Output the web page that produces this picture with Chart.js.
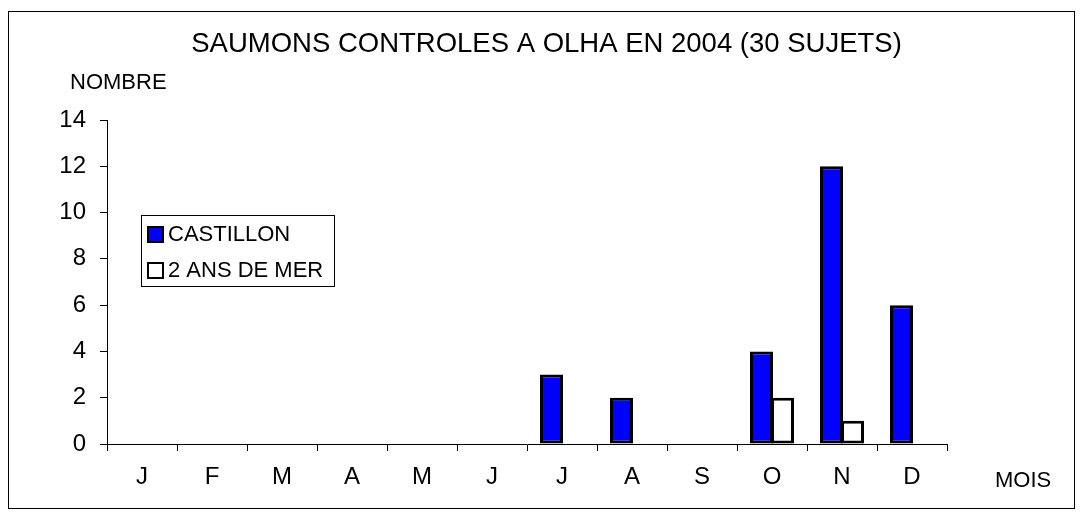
<!DOCTYPE html>
<html>
<head>
<meta charset="utf-8">
<script src="https://cdn.jsdelivr.net/npm/chart.js@4"></script>
<style>
html,body{margin:0;padding:0;background:#fff;}
#wrap{width:1083px;height:516px;position:relative;}
</style>
</head>
<body>
<div id="wrap"><canvas id="c" width="1083" height="516"></canvas></div>
<script>
const months = ['J','F','M','A','M','J','J','A','S','O','N','D'];
const castillon = [0,0,0,0,0,0,3,2,0,4,12,6];
const deuxAnsDeMer = [0,0,0,0,0,0,0,0,0,2,1,0];
const seriesNames = ['CASTILLON','2 ANS DE MER'];
const seriesColors = ['#0000FF','#FFFFFF'];
const yTicks = [0,2,4,6,8,10,12,14];
const titleText = 'SAUMONS CONTROLES A OLHA EN 2004 (30 SUJETS)';
const yAxisLabel = 'NOMBRE';
const xAxisLabel = 'MOIS';

const FONT = '"Liberation Sans", Arial, sans-serif';

const decor = {
  id: 'decor',
  afterDraw(chart) {
    const ctx = chart.ctx;
    ctx.save();
    // outer frame
    ctx.strokeStyle = '#000';
    ctx.lineWidth = 1;
    ctx.strokeRect(8.5, 11.5, 1066, 497);
    // title
    ctx.fillStyle = '#000';
    ctx.textAlign = 'center';
    ctx.textBaseline = 'middle';
    ctx.font = '27.5px ' + FONT;
    ctx.fillText(titleText, 546.5, 44);
    // axis labels
    ctx.textAlign = 'left';
    ctx.font = '22px ' + FONT;
    ctx.fillText(yAxisLabel, 70, 83);
    ctx.fillText(xAxisLabel, 995, 481);
    // legend
    ctx.lineWidth = 1;
    ctx.strokeRect(141.5, 215.5, 193, 71);
    const rows = [234, 270];
    chart.data.datasets.forEach((ds, i) => {
      const cy = rows[i];
      ctx.fillStyle = ds.backgroundColor;
      ctx.fillRect(148, cy - 7, 15, 15);
      ctx.strokeStyle = '#000';
      ctx.lineWidth = 2;
      ctx.strokeRect(148, cy - 7, 15, 15);
      ctx.fillStyle = '#000';
      ctx.font = '22px ' + FONT;
      ctx.textBaseline = 'middle';
      ctx.fillText(ds.label, 168, cy + 1);
    });
    ctx.restore();
  }
};

new Chart(document.getElementById('c'), {
  type: 'bar',
  data: {
    labels: months,
    datasets: [
      {label: seriesNames[0], data: castillon, backgroundColor: seriesColors[0], borderColor: '#000', borderWidth: 3, borderSkipped: false, inflateAmount: 0},
      {label: seriesNames[1], data: deuxAnsDeMer, backgroundColor: seriesColors[1], borderColor: '#000', borderWidth: 3, borderSkipped: false, inflateAmount: 0}
    ]
  },
  options: {
    responsive: false,
    animation: false,
    devicePixelRatio: 1,
    layout: {padding: {left: 0, right: 136, top: 120, bottom: 0}},
    datasets: {bar: {categoryPercentage: 0.6, barPercentage: 23 / 21}},
    plugins: {legend: {display: false}, title: {display: false}, tooltip: {enabled: false}},
    scales: {
      x: {
        grid: {display: true, drawOnChartArea: false, drawTicks: true, tickLength: 7, color: '#000', offset: true},
        border: {display: true, color: '#000', width: 1},
        ticks: {color: '#000', font: {family: FONT, size: 24}, padding: 12, maxRotation: 0, autoSkip: false},
        afterFit(s) { s.height = 72; }
      },
      y: {
        min: 0, max: 14,
        afterBuildTicks(s) { s.ticks = yTicks.map(v => ({value: v})); },
        grid: {display: true, drawOnChartArea: false, drawTicks: true, tickLength: 7, color: '#000'},
        border: {display: true, color: '#000', width: 1},
        ticks: {color: '#000', font: {family: FONT, size: 24}, padding: 14},
        afterFit(s) { s.width = 107; }
      }
    }
  },
  plugins: [decor]
});
</script>
</body>
</html>
